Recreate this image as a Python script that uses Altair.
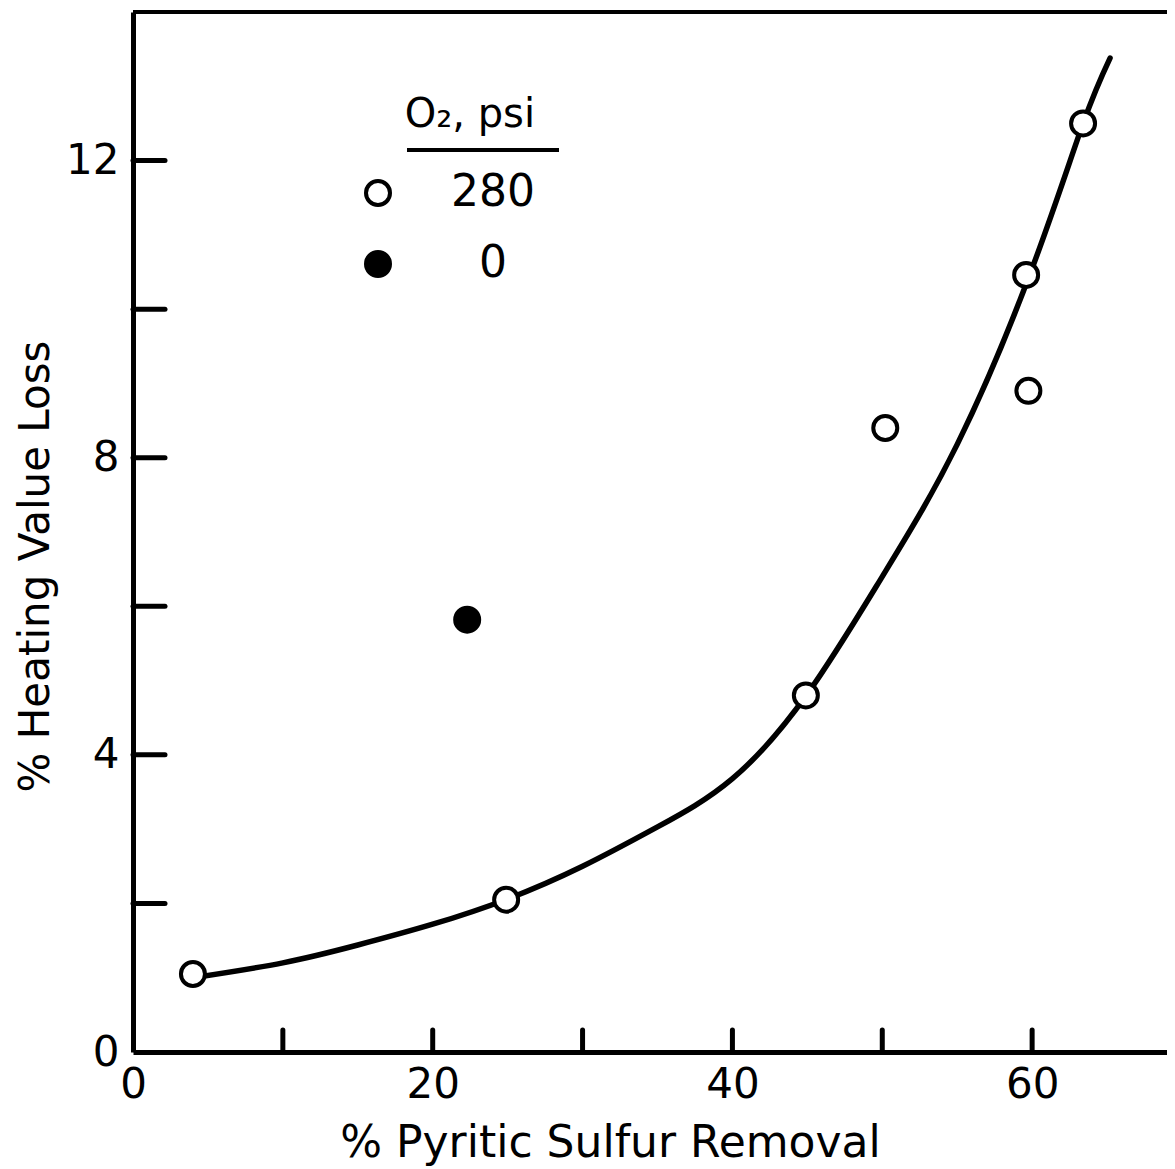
import altair as alt
import pandas as pd

# ---- data ----
# open circles: O2 = 280 psi
open_x = [4.0, 24.9, 44.9, 50.2, 59.6, 59.75, 63.4]
open_y = [1.05, 2.05, 4.8, 8.4, 10.46, 8.9, 12.5]
# filled circles: O2 = 0 psi
filled_x = [22.3]
filled_y = [5.82]

# hand-drawn fitted curve
curve_x = [4.0, 10.0, 15.0, 20.0, 25.0, 30.0, 35.0, 40.0, 45.0, 50.0, 55.0,
           60.0, 63.4, 65.2]
curve_y = [1.0, 1.2, 1.44, 1.72, 2.06, 2.5, 3.03, 3.68, 4.82, 6.4, 8.18,
           10.55, 12.5, 13.38]

series_names = ["280", "0"]
x_label_values = [0, 20, 40, 60]
y_label_values = [0, 4, 8, 12]
x_tick_values = [10, 20, 30, 40, 50, 60]
y_tick_values = [2, 4, 6, 8, 10, 12]

x_title = "% Pyritic Sulfur Removal"
y_title = "% Heating Value Loss"
legend_title = "O\u2082, psi"

# ---- tables ----
points = pd.DataFrame({
    "x": open_x + filled_x,
    "y": open_y + filled_y,
    "O2": [series_names[0]] * len(open_x) + [series_names[1]] * len(filled_x),
})
curve = pd.DataFrame({"x": curve_x, "y": curve_y})
xticks = pd.DataFrame({"x": x_tick_values})
yticks = pd.DataFrame({"y": y_tick_values})

W, H = 1034, 1040
FONT = "DejaVu Sans"

xscale = alt.Scale(domain=[0, 69], nice=False, zero=False)
yscale = alt.Scale(domain=[0, 14], nice=False, zero=False)

xaxis = alt.Axis(values=x_label_values, title=x_title, ticks=False, grid=False,
                 domainWidth=5, domainColor="black", labelFontSize=42,
                 labelFont=FONT, labelColor="black", labelPadding=12,
                 labelFlush=False, titleFontSize=44, titleFont=FONT,
                 titleFontWeight="normal", titleColor="black", titleX=477,
                 titleY=104, titleBaseline="alphabetic", titleAlign="center")
yaxis = alt.Axis(values=y_label_values, title=y_title, ticks=False, grid=False,
                 domainWidth=5, domainColor="black", labelFontSize=42,
                 labelFont=FONT, labelColor="black", labelPadding=14,
                 labelFlush=False, titleFontSize=42, titleFont=FONT,
                 titleFontWeight="normal", titleColor="black", titleX=-85,
                 titleY=554, titleBaseline="alphabetic", titleAlign="center",
                 titleAngle=270)


def X(field="x"):
    return alt.X(f"{field}:Q", scale=xscale, axis=xaxis, title=x_title)


def Y(field="y"):
    return alt.Y(f"{field}:Q", scale=yscale, axis=yaxis, title=y_title)


line = alt.Chart(curve).mark_line(
    color="black", strokeWidth=5.5, interpolate="natural", strokeCap="round"
).encode(x=X(), y=Y())

xtick_layer = alt.Chart(xticks).mark_rule(
    color="black", strokeWidth=5, strokeCap="round"
).encode(x=X(), y=alt.value(H), y2=alt.value(H - 22))

ytick_layer = alt.Chart(yticks).mark_rule(
    color="black", strokeWidth=5, strokeCap="round"
).encode(y=Y(), x=alt.value(0), x2=alt.value(32))

top_border = alt.Chart(curve).mark_rule(color="black", strokeWidth=4).encode(
    y=alt.value(0), x=alt.value(0), x2=alt.value(W)
)

legend_underline = alt.Chart(curve).mark_rule(
    color="black", strokeWidth=4, strokeCap="round"
).encode(y=alt.value(138), x=alt.value(276), x2=alt.value(424))

pts = alt.Chart(points).mark_point(
    shape="circle", filled=True, size=576, stroke="black", strokeWidth=4, opacity=1
).encode(
    x=X(), y=Y(),
    fill=alt.Fill(
        "O2:N",
        scale=alt.Scale(domain=series_names, range=["white", "black"]),
        legend=alt.Legend(
            orient="none", legendX=223, legendY=83, title=legend_title,
            titleFontSize=40, titleFont=FONT, titleFontWeight="normal",
            titleColor="black", titleAnchor="end", titlePadding=36,
            labelFontSize=44, labelFont=FONT, labelColor="black",
            labelAlign="center", labelOffset=93, symbolType="circle",
            symbolSize=576, symbolStrokeWidth=4, symbolStrokeColor="black",
            rowPadding=27, padding=0, offset=0, direction="vertical",
        ),
    ),
)

chart = alt.layer(
    line, xtick_layer, ytick_layer, top_border, legend_underline, pts
).properties(
    width=W, height=H,
    autosize=alt.AutoSizeParams(type="none"),
    padding={"left": 125, "top": 4, "right": 0, "bottom": 117},
    background="white",
).configure_view(stroke=None).configure(font=FONT)

chart.save("out.html", embed_options={"renderer": "svg", "actions": False})
